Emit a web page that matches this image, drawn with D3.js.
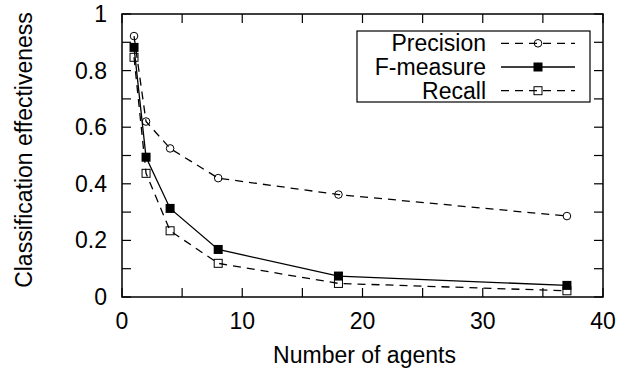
<!DOCTYPE html>
<html><head><meta charset="utf-8">
<script src="https://cdn.jsdelivr.net/npm/d3@7"></script>
<style>body{margin:0;background:#fff}svg{display:block}text{font-family:"Liberation Sans",Arial,sans-serif;fill:#000}</style>
</head><body>
<script>
const agents = [1, 2, 4, 8, 18, 37];
const precision = [0.922, 0.62, 0.525, 0.42, 0.362, 0.286];
const fmeasure = [0.882, 0.494, 0.313, 0.168, 0.074, 0.041];
const recall = [0.847, 0.437, 0.234, 0.119, 0.048, 0.022];
const xTicks = [0, 10, 20, 30, 40];
const yTicks = [0, 0.2, 0.4, 0.6, 0.8, 1];
const xMinor = [5, 15, 25, 35];
const yMinor = [0.1, 0.3, 0.5, 0.7, 0.9];

const W = 640, H = 371;
const m = {l: 122, r: 37, t: 14, b: 74};
const svg = d3.select("body").append("svg").attr("width", W).attr("height", H);
const x = d3.scaleLinear().domain([0, 40]).range([m.l, W - m.r]);
const y = d3.scaleLinear().domain([0, 1]).range([H - m.b, m.t]);
const fs = 23, tl = 9;

// ticks (inward, mirrored)
const tg = svg.append("g").attr("stroke", "#000").attr("stroke-width", 1.2);
[...xTicks, ...xMinor].forEach(v => {
  tg.append("line").attr("x1", x(v)).attr("x2", x(v)).attr("y1", y(0)).attr("y2", y(0) - tl);
  tg.append("line").attr("x1", x(v)).attr("x2", x(v)).attr("y1", y(1)).attr("y2", y(1) + tl);
});
[...yTicks, ...yMinor].forEach(v => {
  tg.append("line").attr("x1", x(0)).attr("x2", x(0) + tl).attr("y1", y(v)).attr("y2", y(v));
  tg.append("line").attr("x1", x(40)).attr("x2", x(40) - tl).attr("y1", y(v)).attr("y2", y(v));
});
svg.append("rect").attr("x", x(0)).attr("y", y(1)).attr("width", x(40) - x(0)).attr("height", y(0) - y(1))
  .attr("fill", "none").attr("stroke", "#000").attr("stroke-width", 1.5);

// tick labels
xTicks.forEach(v => svg.append("text").attr("x", x(v)).attr("y", y(0) + 31.5).attr("text-anchor", "middle")
  .attr("font-size", fs).text(v));
yTicks.forEach(v => svg.append("text").attr("x", x(0) - 15).attr("y", y(v) + 8).attr("text-anchor", "end")
  .attr("font-size", fs).text(v === 0 || v === 1 ? v : v.toFixed(1)));

svg.append("text").attr("x", (x(0) + x(40)) / 2 + 2).attr("y", 363).attr("text-anchor", "middle")
  .attr("font-size", fs).text("Number of agents");
svg.append("text").attr("transform", `translate(32,150) rotate(-90)`).attr("text-anchor", "middle")
  .attr("font-size", fs).text("Classification effectiveness");

const series = [
  {name: "Precision", vals: precision, dash: "8,6", marker: "circle"},
  {name: "F-measure", vals: fmeasure, dash: null, marker: "fsquare"},
  {name: "Recall", vals: recall, dash: "8,6", marker: "osquare"}
];
const line = d3.line().x(d => x(d[0])).y(d => y(d[1]));

function marker(g, cx, cy, type) {
  if (type === "circle") g.append("circle").attr("cx", cx).attr("cy", cy).attr("r", 3.8)
    .attr("fill", "none").attr("stroke", "#000").attr("stroke-width", 1);
  else if (type === "fsquare") g.append("rect").attr("x", cx - 4.5).attr("y", cy - 4.5).attr("width", 9).attr("height", 9)
    .attr("fill", "#000");
  else g.append("rect").attr("x", cx - 4).attr("y", cy - 4).attr("width", 8).attr("height", 8)
    .attr("fill", "none").attr("stroke", "#000").attr("stroke-width", 1);
}

series.forEach(s => {
  const pts = agents.map((a, i) => [a, s.vals[i]]);
  const p = svg.append("path").attr("d", line(pts)).attr("fill", "none").attr("stroke", "#000").attr("stroke-width", 1.3);
  if (s.dash) p.attr("stroke-dasharray", s.dash);
  const g = svg.append("g");
  pts.forEach(d => marker(g, x(d[0]), y(d[1]), s.marker));
});

// legend
svg.append("rect").attr("x", 357).attr("y", 31).attr("width", 233).attr("height", 71)
  .attr("fill", "#fff").attr("stroke", "#000").attr("stroke-width", 1.2);
series.forEach((s, i) => {
  const cy = 43.3 + i * 23.7;
  svg.append("text").attr("x", 486).attr("y", cy + 7.8).attr("text-anchor", "end").attr("font-size", fs).text(s.name);
  const l = svg.append("line").attr("x1", 501).attr("x2", 575).attr("y1", cy).attr("y2", cy)
    .attr("stroke", "#000").attr("stroke-width", 1.3);
  if (s.dash) l.attr("stroke-dasharray", s.dash);
  marker(svg, 538, cy, s.marker);
});
</script>
</body></html>
